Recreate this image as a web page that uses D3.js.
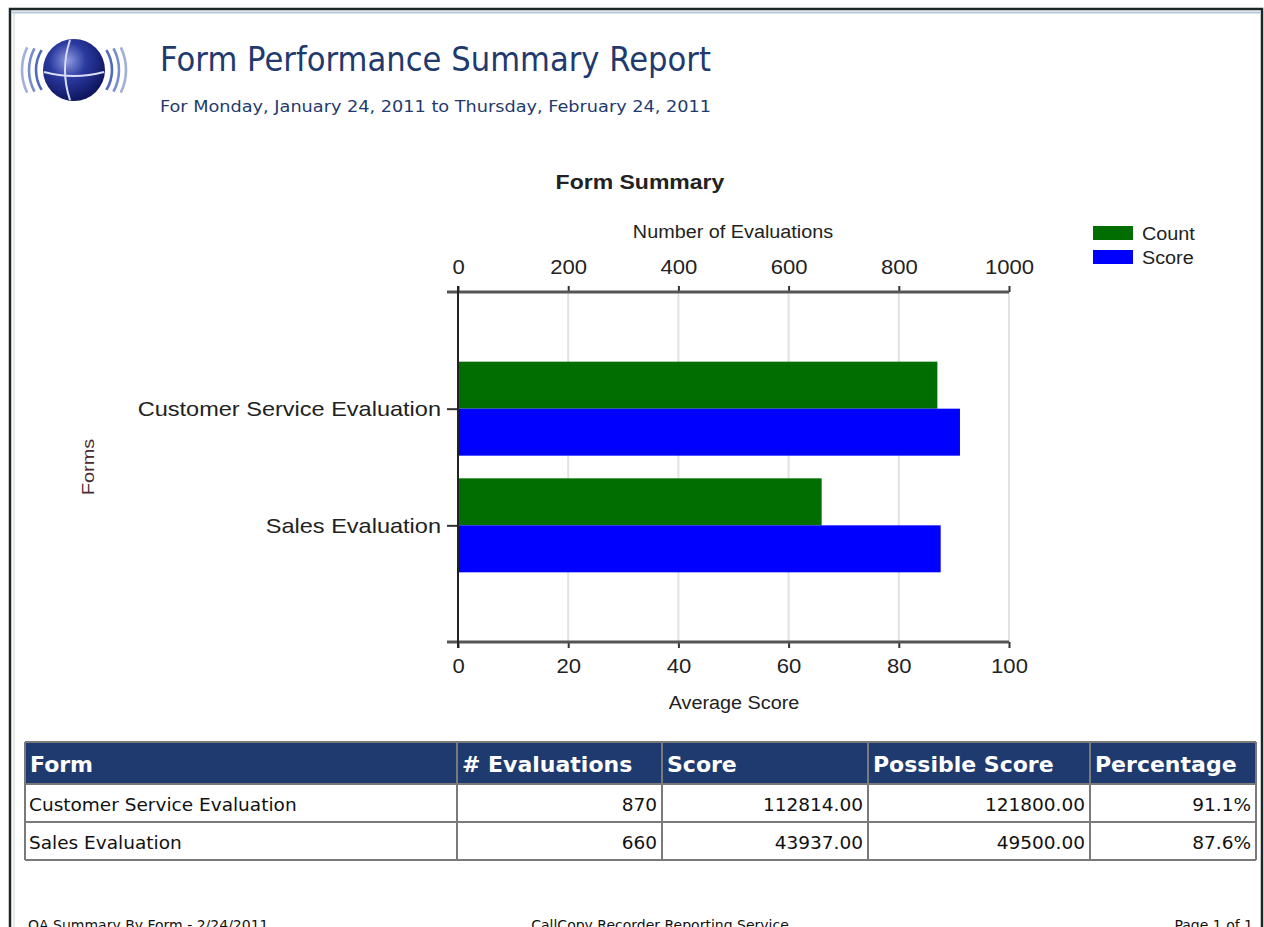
<!DOCTYPE html>
<html lang="en">
<head>
	<meta charset="utf-8">
	<title>Form Performance Summary Report</title>
	<script src="https://d3js.org/d3.v7.min.js"></script>
	<style>
	body { margin: 0; background: #fff; }
	svg { display: block; }
	.title { font-family: "DejaVu Sans", Tahoma, sans-serif; fill: #1f3a6e; }
	.chart text { font-family: "Liberation Sans", Arial, sans-serif; fill: #222; }
	.tick text { font-size: 21px; }
	.table text { font-family: "DejaVu Sans", Tahoma, sans-serif; }
	</style>
</head>
<body>
<script>
	// chart values
	var forms = ["Customer Service Evaluation", "Sales Evaluation"];
	var counts = [870, 660];
	var scores = [91.1, 87.6];
	var countTicks = [0, 200, 400, 600, 800, 1000];
	var scoreTicks = [0, 20, 40, 60, 80, 100];
	var seriesNames = ["Count", "Score"];
	var seriesColors = ["#006e00", "#0000ff"];

	// table values
	var columns = ["Form", "# Evaluations", "Score", "Possible Score", "Percentage"];
	var totalScores = [112814, 43937];
	var possibleScores = [121800, 49500];
	var percents = [91.1, 87.6];

	var w = 1264, h = 927;

	var svg = d3.select("body").append("svg")
		.attr("width", w)
		.attr("height", h);

	// stretch a text horizontally so it fills the width seen in the report
	function stretch(sel, factor) {
		sel.each(function() {
			var len = this.getComputedTextLength();
			d3.select(this).attr("textLength", len * factor).attr("lengthAdjust", "spacingAndGlyphs");
		});
	}

	// page frame
	svg.append("rect").attr("x", 10).attr("y", 9).attr("width", 1252).attr("height", 940)
		.attr("fill", "none").attr("stroke", "#1c2626").attr("stroke-width", 2.5);
	svg.append("line").attr("x1", 12).attr("x2", 1261).attr("y1", 12.5).attr("y2", 12.5)
		.attr("stroke", "#b4c8d8").attr("stroke-width", 2);
	svg.append("line").attr("x1", 14).attr("x2", 14).attr("y1", 13).attr("y2", 927)
		.attr("stroke", "#d0d0d0").attr("stroke-width", 1);

	// logo
	var defs = svg.append("defs");
	var grad = defs.append("radialGradient").attr("id", "globe")
		.attr("cx", "40%").attr("cy", "35%").attr("r", "65%");
	grad.append("stop").attr("offset", "0%").attr("stop-color", "#8f9be0");
	grad.append("stop").attr("offset", "45%").attr("stop-color", "#2b3aa0");
	grad.append("stop").attr("offset", "100%").attr("stop-color", "#0e1660");
	var logo = svg.append("g").attr("transform", "translate(74,70)");
	logo.append("circle").attr("r", 31).attr("fill", "url(#globe)");
	logo.append("path").attr("d", "M-30,2 Q0,10 30,2").attr("fill", "none")
		.attr("stroke", "#d8dcf4").attr("stroke-width", 2);
	logo.append("path").attr("d", "M-4,-30 Q-14,0 -4,30").attr("fill", "none")
		.attr("stroke", "#d8dcf4").attr("stroke-width", 2);
	[38, 45, 52].forEach(function(r, i) {
		var a = 0.55 - i * 0.05;
		var arc = d3.arc().innerRadius(r - 1.3).outerRadius(r + 1.3);
		logo.append("path").attr("d", arc({startAngle: Math.PI / 2 - a, endAngle: Math.PI / 2 + a}))
			.attr("fill", "#3050b0").attr("opacity", 0.85 - i * 0.2);
		logo.append("path").attr("d", arc({startAngle: -Math.PI / 2 - a, endAngle: -Math.PI / 2 + a}))
			.attr("fill", "#3050b0").attr("opacity", 0.85 - i * 0.2);
	});

	// headings
	svg.append("text").attr("class", "title")
		.attr("x", 160).attr("y", 71)
		.attr("font-size", 33)
		.attr("textLength", 551).attr("lengthAdjust", "spacingAndGlyphs")
		.text("Form Performance Summary Report");
	svg.append("text").attr("class", "title")
		.attr("x", 160).attr("y", 112)
		.attr("font-size", 16)
		.attr("textLength", 551).attr("lengthAdjust", "spacingAndGlyphs")
		.text("For Monday, January 24, 2011 to Thursday, February 24, 2011");

	// chart
	var chart = svg.append("g").attr("class", "chart");
	var plotTop = 292, plotBottom = 642, plotLeft = 458, plotRight = 1009;

	var xCount = d3.scaleLinear().domain([0, 1000]).range([plotLeft, plotRight]);
	var xScore = d3.scaleLinear().domain([0, 100]).range([plotLeft, plotRight]);
	var y = d3.scalePoint().domain(forms).range([plotTop, plotBottom]).padding(1);
	var barH = 47;

	chart.append("text").attr("x", 640).attr("y", 189)
		.attr("text-anchor", "middle").attr("font-size", 20).attr("font-weight", "bold")
		.text("Form Summary")
		.call(stretch, 1.15);

	// grid
	chart.append("g").selectAll("line")
		.data(countTicks).enter().append("line")
		.attr("x1", function(d) { return xCount(d); })
		.attr("x2", function(d) { return xCount(d); })
		.attr("y1", plotTop).attr("y2", plotBottom)
		.attr("stroke", "#e2e2e2").attr("stroke-width", 2);

	// bars
	chart.append("g").selectAll("rect")
		.data(forms).enter().append("rect")
		.attr("x", plotLeft)
		.attr("y", function(d) { return y(d) - barH; })
		.attr("width", function(d, i) { return xCount(counts[i]) - plotLeft; })
		.attr("height", barH)
		.attr("fill", seriesColors[0]);
	chart.append("g").selectAll("rect")
		.data(forms).enter().append("rect")
		.attr("x", plotLeft)
		.attr("y", function(d) { return y(d); })
		.attr("width", function(d, i) { return xScore(scores[i]) - plotLeft; })
		.attr("height", barH)
		.attr("fill", seriesColors[1]);

	// axes
	var topAxis = chart.append("g")
		.attr("transform", "translate(0," + plotTop + ")")
		.call(d3.axisTop(xCount).tickValues(countTicks).tickFormat(d3.format("d")).tickSize(6).tickPadding(12));
	var bottomAxis = chart.append("g")
		.attr("transform", "translate(0," + plotBottom + ")")
		.call(d3.axisBottom(xScore).tickValues(scoreTicks).tickFormat(d3.format("d")).tickSize(6).tickPadding(10));
	var leftAxis = chart.append("g")
		.attr("transform", "translate(" + plotLeft + ",0)")
		.call(d3.axisLeft(y).tickSize(11).tickPadding(6));

	[topAxis, bottomAxis, leftAxis].forEach(function(g) {
		g.select(".domain").remove();
		g.selectAll(".tick line").attr("stroke", "#333").attr("stroke-width", 2);
		g.selectAll(".tick text").attr("fill", "#222");
	});
	topAxis.selectAll(".tick text").call(stretch, 1.05);
	bottomAxis.selectAll(".tick text").call(stretch, 1.05);
	leftAxis.selectAll(".tick text").attr("font-size", 20).call(stretch, 1.12);

	chart.append("line").attr("x1", plotLeft - 11).attr("x2", plotRight).attr("y1", plotTop).attr("y2", plotTop)
		.attr("stroke", "#555").attr("stroke-width", 3);
	chart.append("line").attr("x1", plotLeft - 11).attr("x2", plotRight).attr("y1", plotBottom).attr("y2", plotBottom)
		.attr("stroke", "#555").attr("stroke-width", 3);
	chart.append("line").attr("x1", plotLeft).attr("x2", plotLeft).attr("y1", plotTop - 6).attr("y2", plotBottom + 6)
		.attr("stroke", "#222").attr("stroke-width", 2);

	chart.append("text").attr("x", 733).attr("y", 238)
		.attr("text-anchor", "middle").attr("font-size", 18)
		.text("Number of Evaluations")
		.call(stretch, 1.1);
	chart.append("text").attr("x", 734).attr("y", 709)
		.attr("text-anchor", "middle").attr("font-size", 18)
		.text("Average Score")
		.call(stretch, 1.1);
	chart.append("text")
		.attr("transform", "translate(94,467) rotate(-90)")
		.attr("text-anchor", "middle").attr("font-size", 16)
		.style("fill", "#4a2a30")
		.text("Forms")
		.call(stretch, 1.25);

	// legend
	var legend = chart.append("g").selectAll("g")
		.data(seriesNames).enter().append("g")
		.attr("transform", function(d, i) { return "translate(1093," + (226 + i * 24) + ")"; });
	legend.append("rect").attr("width", 40).attr("height", 14)
		.attr("fill", function(d, i) { return seriesColors[i]; });
	legend.append("text").attr("x", 49).attr("y", 14)
		.attr("font-size", 18).text(function(d) { return d; })
		.call(stretch, 1.1);

	// table
	var table = svg.append("g").attr("class", "table");
	var colX = [25, 457, 662, 868, 1090, 1256];
	var rowY = [742, 784, 822, 860];

	table.append("rect").attr("x", colX[0]).attr("y", rowY[0])
		.attr("width", colX[5] - colX[0]).attr("height", rowY[1] - rowY[0])
		.attr("fill", "#1f3a6e");

	table.selectAll(".hcell").data(columns).enter().append("text")
		.attr("x", function(d, i) { return colX[i] + 5; })
		.attr("y", 772)
		.attr("font-size", 22).attr("font-weight", "bold")
		.attr("fill", "#fff")
		.text(function(d) { return d; });

	var rows = forms.map(function(f, i) {
		return [f, String(counts[i]), totalScores[i].toFixed(2), possibleScores[i].toFixed(2), percents[i].toFixed(1) + "%"];
	});

	rows.forEach(function(r, ri) {
		table.selectAll(".r" + ri).data(r).enter().append("text")
			.attr("x", function(d, i) { return i === 0 ? colX[0] + 4 : colX[i + 1] - 5; })
			.attr("y", rowY[ri + 1] + 27)
			.attr("text-anchor", function(d, i) { return i === 0 ? "start" : "end"; })
			.attr("font-size", 18.5)
			.attr("fill", "#111")
			.text(function(d) { return d; });
	});

	// grid lines of the table
	rowY.forEach(function(yy) {
		table.append("line").attr("x1", colX[0]).attr("x2", colX[5]).attr("y1", yy).attr("y2", yy)
			.attr("stroke", "#7a7a7a").attr("stroke-width", 2);
	});
	colX.forEach(function(xx) {
		table.append("line").attr("x1", xx).attr("x2", xx).attr("y1", rowY[0]).attr("y2", rowY[3])
			.attr("stroke", "#7a7a7a").attr("stroke-width", 2);
	});

	// footer, cut by the bottom edge as in the report
	var foot = svg.append("g").attr("font-family", "DejaVu Sans, Tahoma, sans-serif")
		.attr("font-size", 14).attr("fill", "#111");
	foot.append("text").attr("x", 28).attr("y", 930).text("QA Summary By Form - 2/24/2011");
	foot.append("text").attr("x", 660).attr("y", 930).attr("text-anchor", "middle")
		.text("CallCopy Recorder Reporting Service");
	foot.append("text").attr("x", 1253).attr("y", 930).attr("text-anchor", "end")
		.text("Page 1 of 1");
</script>
</body>
</html>
